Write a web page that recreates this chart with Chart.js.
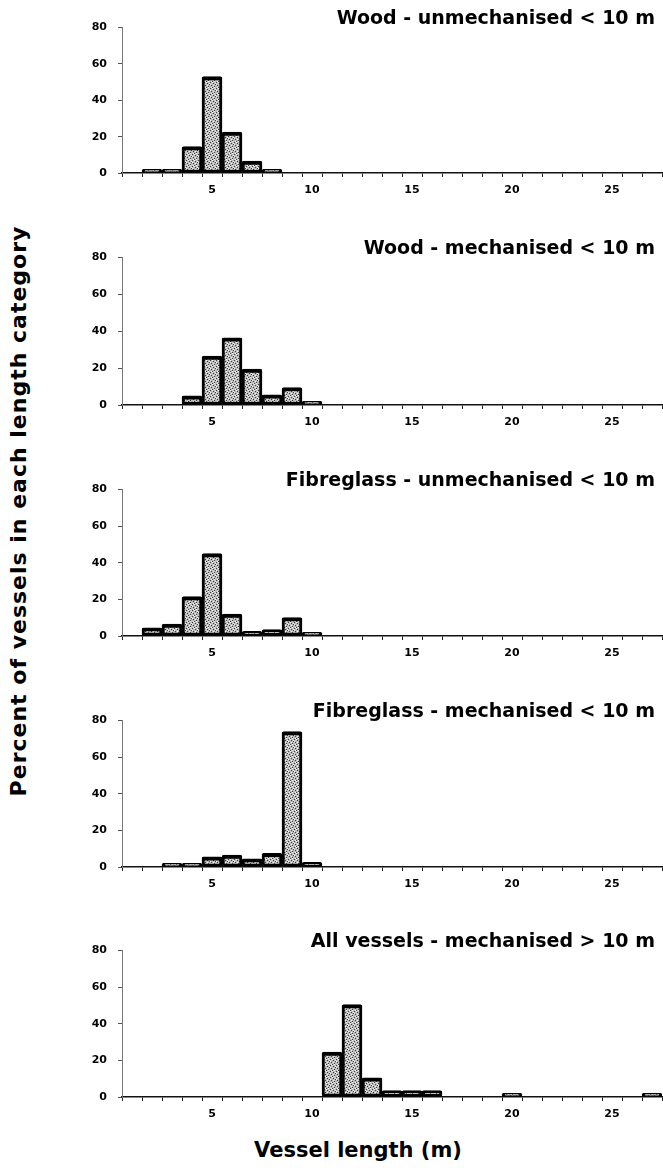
<!DOCTYPE html>
<html>
<head>
<meta charset="utf-8">
<script src="https://cdn.jsdelivr.net/npm/chart.js@4/dist/chart.umd.min.js"></script>
<style>
  body { margin: 0; background: #fff; width: 663px; height: 1175px; position: relative; overflow: hidden;
         font-family: "DejaVu Sans", sans-serif; font-weight: bold; color: #000; }
  canvas { position: absolute; left: 0; }
  .title { position: absolute; right: 8px; font-size: 19px; line-height: 19px; white-space: nowrap; }
  #ytitle { position: absolute; left: -281px; top: 499px; width: 600px; height: 24px; line-height: 24px;
            font-size: 22px; letter-spacing: 1px; text-align: center; transform: rotate(-90deg); white-space: nowrap; }
  #xtitle { position: absolute; left: 158px; width: 400px; top: 1138px; font-size: 21px; text-align: center; white-space: nowrap; }
</style>
</head>
<body>
<div id="ytitle">Percent of vessels in each length category</div>
<div id="xtitle">Vessel length (m)</div>
<script>
// length categories (m)
var lengths = ['1','2','3','4','5','6','7','8','9','10','11','12','13','14','15','16','17','18','19','20','21','22','23','24','25','26','27'];

// percent of vessels per length category
var woodUnmech  = [null, 2, 2, 14.5, 53, 22.5, 6.5, 2, null, null, null, null, null, null, null, null, null, null, null, null, null, null, null, null, null, null, null];
var woodMech    = [null, null, null, 5, 26.5, 36.5, 19.5, 5.5, 9.5, 2, null, null, null, null, null, null, null, null, null, null, null, null, null, null, null, null, null];
var fibreUnmech = [null, 4.5, 6.5, 21.5, 45, 12, 2.5, 3.5, 10, 2, null, null, null, null, null, null, null, null, null, null, null, null, null, null, null, null, null];
var fibreMech   = [null, null, 2, 2, 5.5, 6.5, 4.5, 7.5, 74, 2.5, null, null, null, null, null, null, null, null, null, null, null, null, null, null, null, null, null];
var allMech     = [null, null, null, null, null, null, null, null, null, null, 24.5, 50.5, 10.5, 3.5, 3.5, 3.5, null, null, null, 2, null, null, null, null, null, null, 2];

var titles = ['Wood - unmechanised < 10 m', 'Wood - mechanised < 10 m', 'Fibreglass - unmechanised < 10 m',
              'Fibreglass - mechanised < 10 m', 'All vessels - mechanised > 10 m'];
var series = [woodUnmech, woodMech, fibreUnmech, fibreMech, allMech];
var yTicks = [0, 20, 40, 60, 80];

// where the 80 and 0 lines of each panel sit on the page
var top80 = [22, 252, 484, 715, 945];
var base0 = [173, 405, 636, 867, 1097];

// speckled grey fill like the scanned bars
function speckle() {
  var c = document.createElement('canvas');
  c.width = 6; c.height = 6;
  var g = c.getContext('2d');
  g.fillStyle = '#bdbdbd';
  g.fillRect(0, 0, 6, 6);
  g.fillStyle = '#3a3a3a';
  [[0,0],[3,1],[1,3],[4,4],[5,2],[2,5]].forEach(function(p) { g.fillRect(p[0], p[1], 1, 1); });
  g.fillStyle = '#f4f4f4';
  [[2,0],[5,1],[0,2],[3,3],[1,5],[4,5]].forEach(function(p) { g.fillRect(p[0], p[1], 1, 1); });
  return g.createPattern(c, 'repeat');
}
var fill = speckle();

var tickFont = { family: 'DejaVu Sans', weight: 'bold', size: 11 };

for (var i = 0; i < series.length; i++) {
  var h = base0[i] - top80[i] + 12 + 34;
  var cv = document.createElement('canvas');
  cv.width = 663; cv.height = h;
  cv.style.top = (top80[i] - 12) + 'px';
  document.body.appendChild(cv);

  var t = document.createElement('div');
  t.className = 'title';
  t.style.top = (top80[i] - 14) + 'px';
  t.textContent = titles[i];
  document.body.appendChild(t);

  new Chart(cv.getContext('2d'), {
    type: 'bar',
    data: {
      labels: lengths,
      datasets: [{
        data: series[i],
        backgroundColor: fill,
        borderColor: '#000',
        borderWidth: { top: 4, left: 3, right: 3, bottom: 3 },
        borderSkipped: false,
        borderRadius: 2,
        barPercentage: 1,
        categoryPercentage: 1
      }]
    },
    options: {
      responsive: false,
      animation: false,
      layout: { padding: { top: 12, right: 1, left: 0, bottom: 0 } },
      plugins: { legend: { display: false }, tooltip: { enabled: false } },
      scales: {
        x: {
          grid: { drawOnChartArea: false, offset: true, tickLength: 4, color: '#222' },
          border: { color: '#111', width: 1.5 },
          ticks: {
            autoSkip: false, maxRotation: 0, padding: 7, color: '#000', font: tickFont,
            callback: function(v, idx) { return lengths[idx] % 5 === 0 ? lengths[idx] : ''; }
          },
          afterFit: function(s) { s.height = 34; }
        },
        y: {
          min: 0, max: 80,
          afterBuildTicks: function(s) { s.ticks = yTicks.map(function(v) { return { value: v }; }); },
          ticks: { padding: 11, color: '#000', font: tickFont },
          grid: { drawOnChartArea: false, tickLength: 4, color: '#555' },
          border: { color: '#777', width: 1, dash: [3, 2] },
          afterFit: function(s) { s.width = 122; }
        }
      }
    }
  });
}
</script>
</body>
</html>
